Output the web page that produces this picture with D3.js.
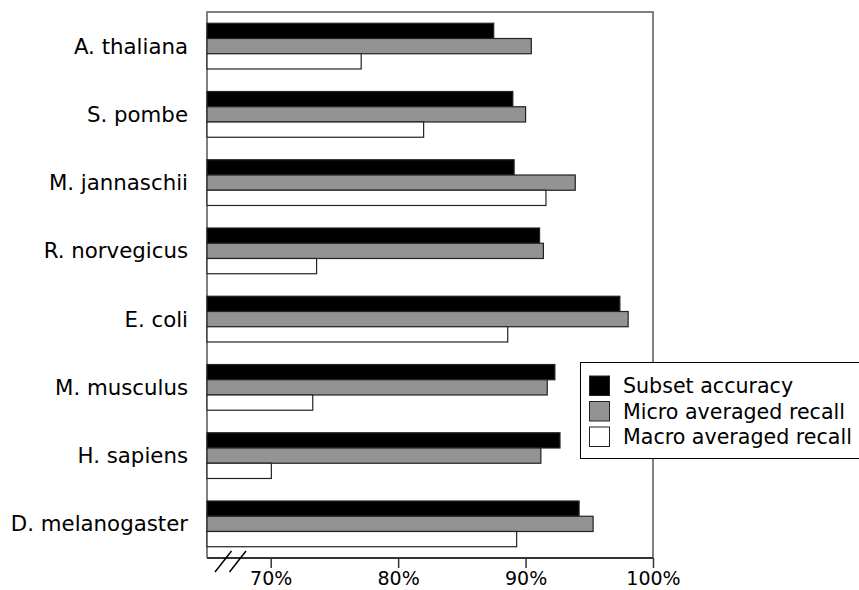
<!DOCTYPE html>
<html><head><meta charset="utf-8">
<script src="https://cdn.jsdelivr.net/npm/d3@7"></script>
<style>body{margin:0;background:#fff;} text{font-family:"DejaVu Sans",sans-serif;}</style>
</head><body>
<svg id="c" width="859" height="590"></svg>
<script>
const categories = ["A. thaliana","S. pombe","M. jannaschii","R. norvegicus","E. coli","M. musculus","H. sapiens","D. melanogaster"];
const seriesNames = ["Subset accuracy","Micro averaged recall","Macro averaged recall"];
const subsetAccuracy = [87.5, 89.0, 89.1, 91.1, 97.4, 92.3, 92.7, 94.2];
const microRecall = [90.45, 90.0, 93.9, 91.4, 98.05, 91.7, 91.2, 95.3];
const macroRecall = [77.1, 82.0, 91.6, 73.6, 88.6, 73.3, 70.05, 89.3];
const tickValues = [70, 80, 90, 100];
const tickLabels = ["70%","80%","90%","100%"];
const fills = ["#000000","#939393","#ffffff"];

const series = [subsetAccuracy, microRecall, macroRecall];
const svg = d3.select("#c");
const L = 207, R = 653, T = 12, B = 558;
const x = d3.scaleLinear().domain([65, 100]).range([L, R]);
const y = d3.scaleBand().domain(categories).range([T, B]).paddingInner(0.33).paddingOuter(0.165);
const yi = d3.scaleBand().domain(d3.range(3)).range([0, y.bandwidth()]);

// frame (top, left, right)
svg.append("path").attr("d", `M${L},${B}V${T}H${R}V${B}`).attr("fill","none").attr("stroke","#808080").attr("stroke-width",2);

// bars
categories.forEach((c, i) => {
  series.forEach((s, k) => {
    svg.append("rect")
      .attr("x", x(65))
      .attr("y", y(c) + yi(k))
      .attr("width", x(s[i]) - x(65))
      .attr("height", yi.bandwidth())
      .attr("fill", fills[k])
      .attr("stroke", "#222").attr("stroke-width", 1.2);
  });
});

// category labels
svg.append("g").selectAll("text").data(categories).join("text")
  .attr("x", 188).attr("y", d => y(d) + y.bandwidth()/2)
  .attr("text-anchor","end").attr("dominant-baseline","central")
  .attr("font-size", 21.3).attr("fill","#000").text(d => d);

// bottom axis
const ax = d3.axisBottom(x).tickValues(tickValues).tickFormat((d,i) => tickLabels[i]).tickSize(10).tickPadding(4);
const g = svg.append("g").attr("transform", `translate(0,${B})`).call(ax);
g.select(".domain").attr("stroke","#333").attr("stroke-width",2).attr("d", `M${L},0H${R}`);
g.selectAll(".tick line").attr("stroke","#333").attr("stroke-width",1.5);
g.selectAll(".tick text").attr("font-size",19).attr("fill","#000").attr("font-family","DejaVu Sans");

// break marks
[0, 14.5].forEach(dx => {
  svg.append("line").attr("x1", 215+dx).attr("y1", 572).attr("x2", 231.5+dx).attr("y2", 551)
    .attr("stroke","#000").attr("stroke-width",1.5);
});

// legend
const lg = svg.append("g");
lg.append("rect").attr("x",580.5).attr("y",362.5).attr("width",300).attr("height",96)
  .attr("fill","#fff").attr("stroke","#000").attr("stroke-width",1);
seriesNames.forEach((n, k) => {
  const yy = 376 + k*25.5;
  lg.append("rect").attr("x",589.5).attr("y",yy).attr("width",20).attr("height",19.5)
    .attr("fill",fills[k]).attr("stroke","#222").attr("stroke-width",1);
  lg.append("text").attr("x",623).attr("y",yy+10).attr("dominant-baseline","central")
    .attr("font-size",20.6).attr("fill","#000").text(n);
});
</script>
</body></html>
